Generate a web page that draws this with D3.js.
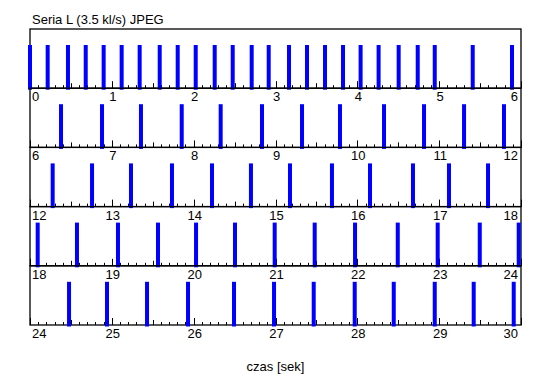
<!DOCTYPE html>
<html>
<head>
<meta charset="utf-8">
<script src="https://cdn.jsdelivr.net/npm/d3@7"></script>
<style>
  body { margin: 0; background: #fff; }
  text { font-family: "Liberation Sans", Arial, sans-serif; font-size: 13px; fill: #000; }
</style>
</head>
<body>
<svg id="chart" width="550" height="389"></svg>
<script>
// chart texts
const title = "Seria L (3.5 kl/s) JPEG";
const xLabel = "czas [sek]";

// time window of every row (seconds)
const rowStarts = [0, 6, 12, 18, 24];
const rowSpan = 6;

// frame arrival times (seconds)
const frameTimes = [
  0.00, 0.216, 0.464, 0.681, 0.90, 1.12, 1.34, 1.585, 1.805, 2.025, 2.257, 2.477,
  2.709, 2.917, 3.165, 3.385, 3.605, 3.825, 4.04, 4.26, 4.505, 4.738, 4.946, 5.41, 5.89,
  6.379, 6.88, 7.356, 7.854, 8.33, 8.835, 9.324, 9.788, 10.326, 10.815, 11.304, 11.792,
  12.277, 12.758, 13.234, 13.735, 14.224, 14.70, 15.177, 15.69, 16.155, 16.68, 17.12, 17.597,
  18.094, 18.574, 19.075, 19.564, 20.029, 20.505, 20.99, 21.479, 21.972, 22.494, 22.982, 23.496, 23.972,
  24.477, 24.941, 25.43, 25.931, 26.493, 26.982, 27.467, 27.968, 28.445, 28.946, 29.422, 29.911
];

const svg = d3.select("#chart");
const left = 30, right = 521;
const rowH = 59.2;
const top0 = 29;

// row index -> top of panel
const yRow = d3.scaleLinear().domain([0, 1]).range([top0, top0 + rowH]);

svg.append("text")
  .attr("x", 32).attr("y", 24)
  .text(title);

rowStarts.forEach((start, i) => {
  const x = d3.scaleLinear().domain([start, start + rowSpan]).range([left, right]);
  const yTop = yRow(i), yBot = yRow(i + 1);
  const g = svg.append("g");

  // panel frame
  g.append("rect")
    .attr("x", left).attr("y", yTop)
    .attr("width", right - left).attr("height", yBot - yTop)
    .attr("fill", "none").attr("stroke", "#000").attr("stroke-width", 1.3);

  // ticks every 0.1 s, pointing up
  const ticks = d3.range(0, rowSpan * 10 + 1).map(k => start + k / 10);
  g.selectAll(".tick")
    .data(ticks)
    .join("line")
    .attr("x1", d => Math.round(x(d)) + 0.5)
    .attr("x2", d => Math.round(x(d)) + 0.5)
    .attr("y1", yBot)
    .attr("y2", (d, k) => yBot - (k % 10 === 0 ? 7 : k % 5 === 0 ? 5 : 3))
    .attr("stroke", "#000").attr("stroke-width", 1);

  // frames
  const bars = frameTimes.filter(t => t >= start - 0.001 && t < start + rowSpan + 0.001);
  g.selectAll(".bar")
    .data(bars)
    .join("rect")
    .attr("x", d => Math.max(x(d) - 2, left - 2))
    .attr("width", 4)
    .attr("y", yTop + 16)
    .attr("height", yBot - yTop - 14.5)
    .attr("fill", "#0000ff");

  // second labels
  const labs = d3.range(start, start + rowSpan + 1);
  g.selectAll(".lab")
    .data(labs)
    .join("text")
    .attr("x", (d, k) => k === 0 ? x(d) + 2 : k === labs.length - 1 ? x(d) - 3 : x(d) + 1)
    .attr("y", yBot + 13)
    .attr("text-anchor", (d, k) => k === 0 ? "start" : k === labs.length - 1 ? "end" : "middle")
    .text(d => d);
});

svg.append("text")
  .attr("x", (left + right) / 2).attr("y", 371)
  .attr("text-anchor", "middle")
  .text(xLabel);
</script>
</body>
</html>
